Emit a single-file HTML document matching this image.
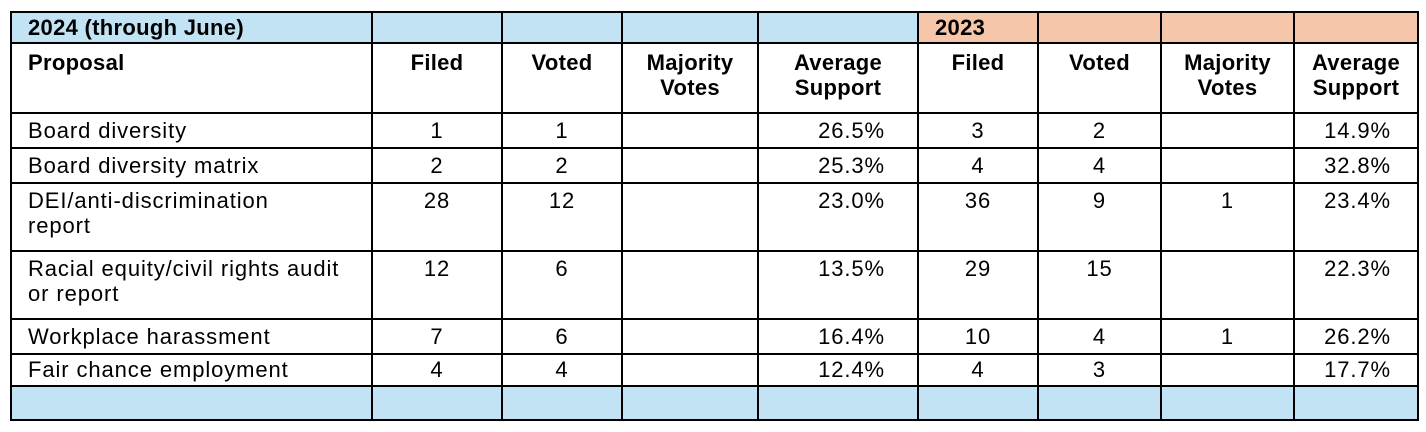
<!DOCTYPE html>
<html><head><meta charset="utf-8"><style>
html,body{margin:0;padding:0;background:#fff;width:1426px;height:432px;overflow:hidden}
table{position:absolute;left:10px;top:11px;border-collapse:collapse;font-family:"Liberation Sans",sans-serif;font-size:22px;letter-spacing:0.9px;color:#000;table-layout:fixed}
td{border:2px solid #000;padding:0;vertical-align:top;line-height:25px;text-align:center;white-space:nowrap}
td.l{text-align:left;padding-left:16px}
td.r{text-align:right;padding-right:32px}
.b{font-weight:bold;letter-spacing:0.3px}
.blue td{background:#c1e3f4}
td.o{background:#f6c6aa !important}
</style></head><body>
<table>
<colgroup><col style="width:361px"><col style="width:130px"><col style="width:120px"><col style="width:136px"><col style="width:160px"><col style="width:120px"><col style="width:123px"><col style="width:133px"><col style="width:124px"></colgroup>
<tr class="blue" style="height:31px"><td class="l b" style="vertical-align:middle">2024 (through June)</td><td></td><td></td><td></td><td></td><td class="o b l" style="vertical-align:middle">2023</td><td class="o"></td><td class="o"></td><td class="o"></td></tr>
<tr class="b" style="height:70px"><td class="l" style="padding-top:6px">Proposal</td><td style="padding-top:6px">Filed</td><td style="padding-top:6px">Voted</td><td style="padding-top:6px">Majority<br>Votes</td><td style="padding-top:6px">Average<br>Support</td><td style="padding-top:6px">Filed</td><td style="padding-top:6px">Voted</td><td style="padding-top:6px">Majority<br>Votes</td><td style="padding-top:6px">Average<br>Support</td></tr>
<tr style="height:35px"><td class="l" style="padding-top:4px">Board diversity</td><td style="padding-top:4px">1</td><td style="padding-top:4px">1</td><td></td><td class="r" style="padding-top:4px">26.5%</td><td style="padding-top:4px">3</td><td style="padding-top:4px">2</td><td></td><td class="r" style="padding-top:4px;padding-right:26px">14.9%</td></tr>
<tr style="height:35px"><td class="l" style="padding-top:4px">Board diversity matrix</td><td style="padding-top:4px">2</td><td style="padding-top:4px">2</td><td></td><td class="r" style="padding-top:4px">25.3%</td><td style="padding-top:4px">4</td><td style="padding-top:4px">4</td><td></td><td class="r" style="padding-top:4px;padding-right:26px">32.8%</td></tr>
<tr style="height:68px"><td class="l" style="padding-top:4px">DEI/anti-discrimination<br>report</td><td style="padding-top:4px">28</td><td style="padding-top:4px">12</td><td></td><td class="r" style="padding-top:4px">23.0%</td><td style="padding-top:4px">36</td><td style="padding-top:4px">9</td><td style="padding-top:4px">1</td><td class="r" style="padding-top:4px;padding-right:26px">23.4%</td></tr>
<tr style="height:68px"><td class="l" style="padding-top:4px">Racial equity/civil rights audit<br>or report</td><td style="padding-top:4px">12</td><td style="padding-top:4px">6</td><td></td><td class="r" style="padding-top:4px">13.5%</td><td style="padding-top:4px">29</td><td style="padding-top:4px">15</td><td></td><td class="r" style="padding-top:4px;padding-right:26px">22.3%</td></tr>
<tr style="height:35px"><td class="l" style="padding-top:4px">Workplace harassment</td><td style="padding-top:4px">7</td><td style="padding-top:4px">6</td><td></td><td class="r" style="padding-top:4px">16.4%</td><td style="padding-top:4px">10</td><td style="padding-top:4px">4</td><td style="padding-top:4px">1</td><td class="r" style="padding-top:4px;padding-right:26px">26.2%</td></tr>
<tr style="height:32px"><td class="l" style="padding-top:2px">Fair chance employment</td><td style="padding-top:2px">4</td><td style="padding-top:2px">4</td><td></td><td class="r" style="padding-top:2px">12.4%</td><td style="padding-top:2px">4</td><td style="padding-top:2px">3</td><td></td><td class="r" style="padding-top:2px;padding-right:26px">17.7%</td></tr>
<tr class="blue" style="height:34px"><td></td><td></td><td></td><td></td><td></td><td></td><td></td><td></td><td></td></tr>
</table>
</body></html>
